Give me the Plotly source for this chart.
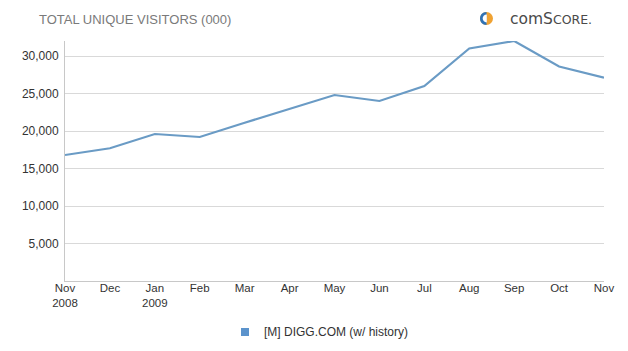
import plotly.graph_objects as go

months = ["Nov<br>2008", "Dec", "Jan<br>2009", "Feb", "Mar", "Apr", "May", "Jun",
          "Jul", "Aug", "Sep", "Oct", "Nov"]
visitors = [16800, 17700, 19600, 19200, 21100, 23000, 24800, 24000,
            26000, 31000, 32000, 28600, 27100]
y_ticks = [5000, 10000, 15000, 20000, 25000, 30000]
series_name = "[M] DIGG.COM (w/ history)"
line_color = "#6a9bc5"

W, H = 628, 351
L, R, T, B = 65, 24, 41, 70
pw, ph = W - L - R, H - T - B

def px(x):
    return (x - L) / pw

def py(y):
    return (H - B - y) / ph

idx = list(range(len(months)))
fig = go.Figure()
fig.add_trace(go.Scatter(x=idx, y=visitors, mode="lines",
                         line=dict(color=line_color, width=2.2),
                         showlegend=False, hoverinfo="skip"))

font_tick = dict(family="Arial, Liberation Sans, sans-serif", size=12, color="#333333")

fig.update_layout(
    width=W, height=H,
    margin=dict(l=L, r=R, t=T, b=B),
    paper_bgcolor="white", plot_bgcolor="white",
    xaxis=dict(range=[0, len(months) - 1], tickmode="array", tickvals=idx,
               ticktext=months, showgrid=False, zeroline=False,
               showline=True, linecolor="#c8c8c8", linewidth=1,
               ticks="", tickfont=dict(family="Arial, Liberation Sans, sans-serif", size=11.5, color="#333333"),
               ticklabelstandoff=-4, fixedrange=True),
    yaxis=dict(range=[0, 32000], tickmode="array", tickvals=y_ticks,
               ticktext=[f"{v:,}" for v in y_ticks],
               showgrid=True, gridcolor="#d9d9d9", gridwidth=1,
               zeroline=False, showline=True, linecolor="#c8c8c8", linewidth=1,
               ticks="", tickfont=font_tick, ticklabelstandoff=3),
)

annotations = [
    dict(text="TOTAL UNIQUE VISITORS (000)", xref="paper", yref="paper",
         x=px(37), y=py(19), xanchor="left", yanchor="middle", showarrow=False,
         font=dict(family="Arial, Liberation Sans, sans-serif", size=13, color="#7a7a7a")),
    dict(text="comS<span style='font-size:12.5px'>CORE.</span>", xref="paper", yref="paper",
         x=px(508), y=py(19.5), xanchor="left", yanchor="middle", showarrow=False,
         font=dict(family="Verdana, DejaVu Sans, sans-serif", size=15.5, color="#4a4a4a")),
    dict(text=series_name, xref="paper", yref="paper",
         x=px(262), y=py(332), xanchor="left", yanchor="middle", showarrow=False,
         font=dict(family="Arial, Liberation Sans, sans-serif", size=12, color="#333333")),
]
fig.update_layout(annotations=annotations)

cx, cy, r = 486.5, 18.5, 6.5
shapes = [
    # logo: orange disc
    dict(type="circle", xref="paper", yref="paper", x0=px(cx - r), x1=px(cx + r),
         y0=py(cy + r), y1=py(cy - r), fillcolor="#f0a232", line=dict(width=0)),
    # blue left half
    dict(type="path", xref="paper", yref="paper",
         path=(f"M {px(cx)} {py(cy - r)} "
               f"C {px(cx - r * 1.33)} {py(cy - r)} {px(cx - r * 1.33)} {py(cy + r)} {px(cx)} {py(cy + r)} Z"),
         fillcolor="#2f72b6", line=dict(width=0)),
    # white inner half
    dict(type="path", xref="paper", yref="paper",
         path=(f"M {px(cx + 0.3)} {py(cy - r + 2.6)} "
               f"C {px(cx - (r - 2.6) * 1.33)} {py(cy - r + 2.6)} {px(cx - (r - 2.6) * 1.33)} {py(cy + r - 2.6)} {px(cx + 0.3)} {py(cy + r - 2.6)} Z"),
         fillcolor="white", line=dict(width=0)),
    # legend marker
    dict(type="rect", xref="paper", yref="paper", x0=px(241), x1=px(249),
         y0=py(336), y1=py(328), fillcolor="#5b93cc", line=dict(width=0)),
]
fig.update_layout(shapes=shapes)

fig.write_html("out.html")
